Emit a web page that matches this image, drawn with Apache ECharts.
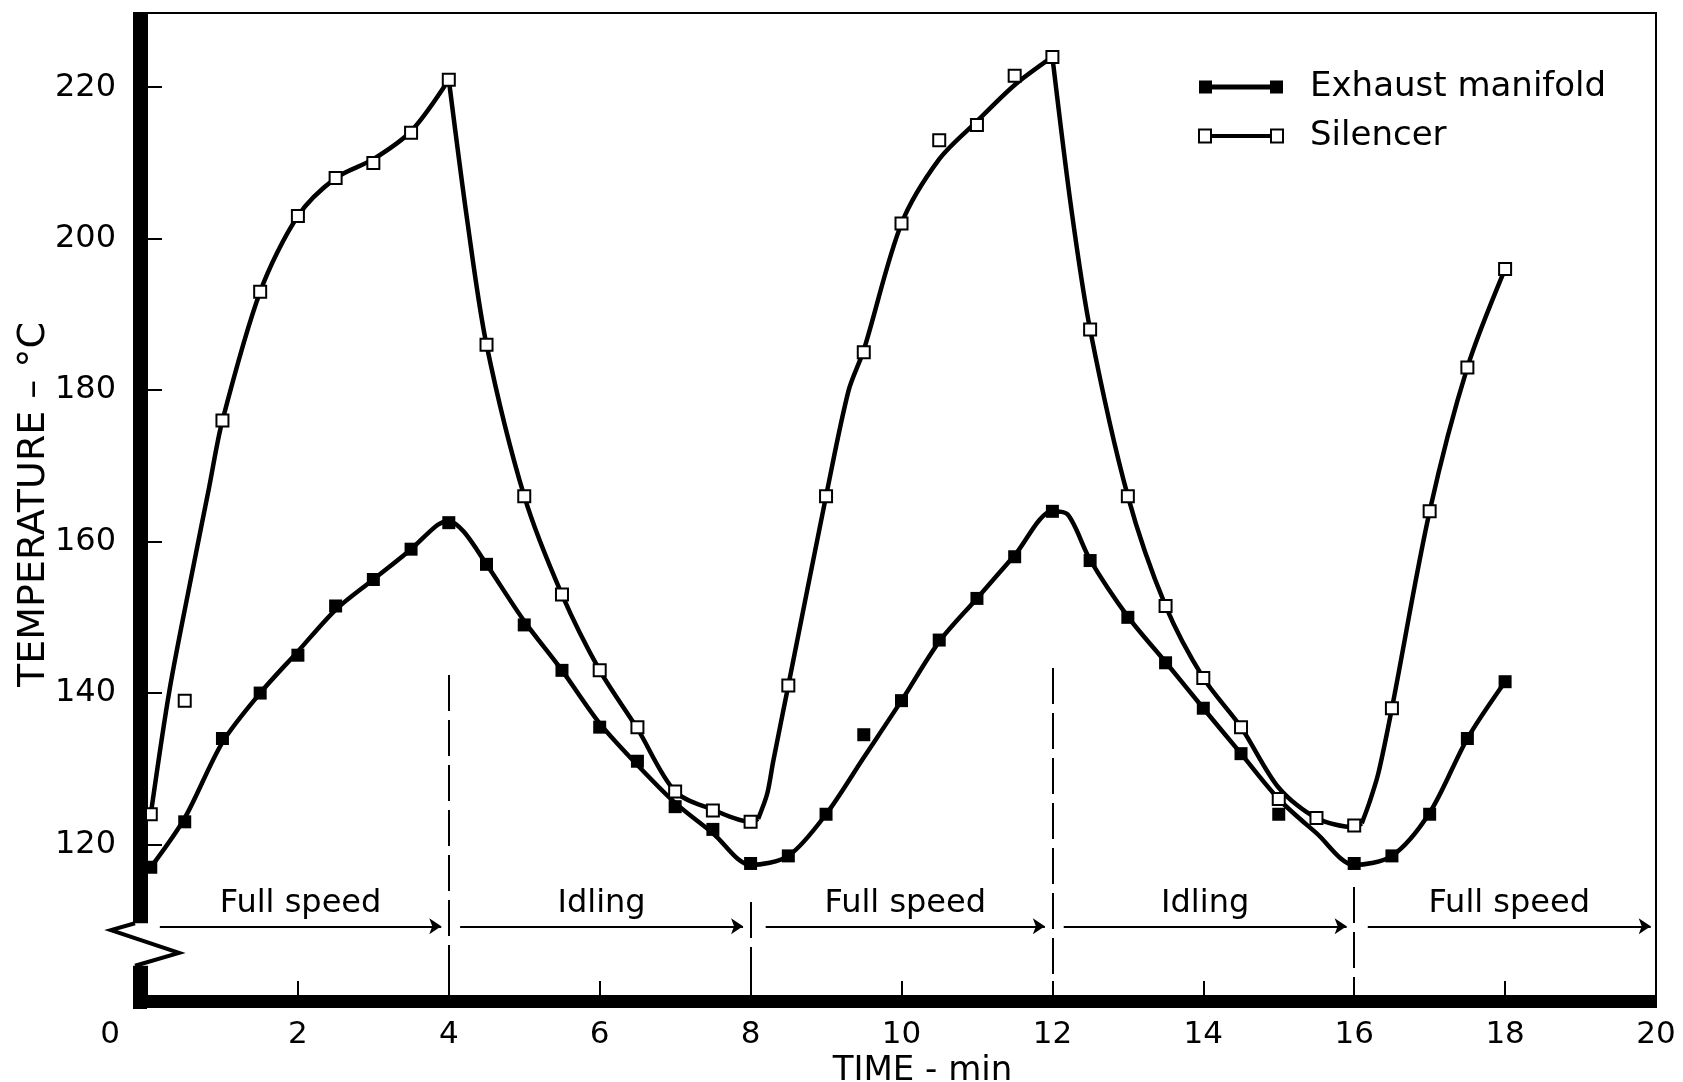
<!DOCTYPE html>
<html>
<head>
<meta charset="utf-8">
<script src="https://cdn.jsdelivr.net/npm/echarts@6/dist/echarts.min.js"></script>
<style>
html,body{margin:0;padding:0;background:#fff;}
#c{width:1683px;height:1082px;}
</style>
</head>
<body>
<div id="c"></div>
<script>
// ---- data ----
const xTickValues = [0, 2, 4, 6, 8, 10, 12, 14, 16, 18, 20];
const yTickValues = [120, 140, 160, 180, 200, 220];

// measured points (markers)
const exhaustPoints = [[0.05,117],[0.5,123],[1,134],[1.5,140],[2,145],[2.5,151.5],[3,155],[3.5,159],[4,162.5],[4.5,157],[5,149],[5.5,143],[6,135.5],[6.5,131],[7,125],[7.5,122],[8,117.5],[8.5,118.5],[9,124],[9.5,134.5],[10,139],[10.5,147],[11,152.5],[11.5,158],[12,164],[12.5,157.5],[13,150],[13.5,144],[14,138],[14.5,132],[15,124],[16,117.5],[16.5,118.5],[17,124],[17.5,134],[18,141.5]];
const silencerPoints = [[0.05,124],[0.5,139],[1,176],[1.5,193],[2,203],[2.5,208],[3,210],[3.5,214],[4,221],[4.5,186],[5,166],[5.5,153],[6,143],[6.5,135.5],[7,127],[7.5,124.5],[8,123],[8.5,141],[9,166],[9.5,185],[10,202],[10.5,213],[11,215],[11.5,221.5],[12,224],[12.5,188],[13,166],[13.5,151.5],[14,142],[14.5,135.5],[15,126],[15.5,123.5],[16,122.5],[16.5,138],[17,164],[17.5,183],[18,196]];

// fitted curves as drawn
const exhaustCurve = [[0.05,117],[0.5,123.5],[1,133.5],[1.5,140],[2,145.5],[2.5,151],[3,155],[3.5,159],[3.85,162.2],[4,162.7],[4.2,161.3],[4.5,157],[5,149.5],[5.5,143],[6,136],[6.5,130.5],[7,125.5],[7.5,121.5],[8,117.3],[8.5,118.5],[9,124],[9.5,131.5],[10,139],[10.5,146.8],[11,152.5],[11.5,158.2],[12,164],[12.2,163.6],[12.5,157.6],[13,150.1],[13.5,144.1],[14,138],[14.5,132],[15,126],[15.5,121.5],[16,117.3],[16.5,118.5],[17,124.2],[17.5,134],[18,141.5]];
const silencerCurve1 = [[0.05,124],[0.3,140.5],[0.6,156],[0.82,167],[1,176],[1.5,193],[2,203],[2.5,208],[3,210.5],[3.5,214.2],[4,221]];
const silencerCurve2 = [[4,221],[4.25,202],[4.5,186],[5,166],[5.5,153],[6,143],[6.5,135.3],[7,127],[7.5,124.6],[8,123],[8.1,123.4]];
const silencerCurve3 = [[8.1,123.4],[8.22,126.7],[8.3,131],[8.5,141],[9,166],[9.3,180],[9.5,185.3],[10,202],[10.5,210.5],[11,215.5],[11.5,220.3],[12,224]];
const silencerCurve4 = [[12,224],[12.25,204],[12.5,188],[13,166],[13.5,151.5],[14,142],[14.5,135.5],[15,127.5],[15.5,123.5],[16,122.3],[16.1,122.8]];
const silencerCurve5 = [[16.1,122.8],[16.2,125.5],[16.32,129.4],[16.5,138],[17,164],[17.5,183],[18,196]];

// phase annotations
const phaseNames = ['Full speed', 'Idling', 'Full speed', 'Idling', 'Full speed'];
const phaseStarts = [0.17, 4.15, 8.2, 12.15, 16.18];
const phaseEnds = [3.9, 7.9, 11.9, 15.9, 19.93];
const phaseArrowY = 109.2;
const switchTimes = [4, 8, 12, 16];
const switchTopValues = [142.4, 112.4, 143.3, 114.4];

const FONT = 'DejaVu Sans';
const chart = echarts.init(document.getElementById('c'));

const curveLine = (name, data) => ({
  name, type: 'line', data, smooth: 0.3, showSymbol: false, symbol: 'none', silent: true,
  lineStyle: { color: '#000', width: 4.5, opacity: 1 }, z: 2
});

const option = {
  animation: false,
  backgroundColor: '#fff',
  grid: { left: 147, right: 27, top: 13, bottom: 86, containLabel: false, outerBoundsMode: 'none',
          show: true, borderColor: '#000', borderWidth: 2 },
  legend: {
    orient: 'vertical', left: 1193, top: 65, itemWidth: 84, itemHeight: 13, itemGap: 15,
    selectedMode: false,
    textStyle: { fontFamily: FONT, fontSize: 34, lineHeight: 34, color: '#000', padding: [0, 0, 0, 22] },
    data: [
      { name: 'Exhaust manifold', icon: 'path://M0,0H13V13H0Z M13,4H71V9H13Z M71,0H84V13H71Z',
        itemStyle: { color: '#000', borderWidth: 0, opacity: 1 } },
      { name: 'Silencer', icon: 'path://M0,0H12V13H0Z M12,5.5H72V7.5H12Z M72,0H84V13H72Z',
        itemStyle: { color: '#fff', borderColor: '#000', borderWidth: 2, opacity: 1 } }
    ]
  },
  xAxis: {
    type: 'value', min: 0, max: 20, interval: 2,
    name: 'TIME - min', nameLocation: 'middle', nameGap: 58, nameMoveOverlap: false,
    nameTextStyle: { fontFamily: FONT, fontSize: 34, color: '#000', padding: [0, 0, 0, 42] },
    axisLine: { show: false },
    axisTick: { show: true, inside: true, length: 15, lineStyle: { color: '#000', width: 2 } },
    splitLine: { show: false },
    axisLabel: {
      margin: 23, fontFamily: FONT, fontSize: 31, color: '#000',
      formatter: v => (xTickValues.indexOf(v) < 0 ? '' : (v === 0 ? '{z|0}' : String(v))),
      rich: { z: { fontFamily: FONT, fontSize: 31, color: '#000', padding: [0, 74, 0, 0] } }
    }
  },
  yAxis: {
    type: 'value', min: 100, max: 229.8, interval: 20,
    name: 'TEMPERATURE – °C', nameLocation: 'middle', nameGap: 94, nameMoveOverlap: false,
    nameTextStyle: { fontFamily: FONT, fontSize: 38, color: '#000' },
    axisLine: { show: false },
    axisTick: { show: true, inside: true, length: 15, lineStyle: { color: '#000', width: 2 } },
    splitLine: { show: false },
    axisLabel: {
      margin: 31, fontFamily: FONT, fontSize: 32, color: '#000',
      showMinLabel: false, showMaxLabel: false,
      formatter: v => (yTickValues.indexOf(v) < 0 ? '' : String(v))
    }
  },
  series: [
    { name: 'Exhaust manifold', type: 'scatter', data: exhaustPoints, symbol: 'rect', symbolSize: 13,
      itemStyle: { color: '#000', opacity: 1 }, z: 4, silent: true },
    { name: 'Silencer', type: 'scatter', data: silencerPoints, symbol: 'rect', symbolSize: 12,
      itemStyle: { color: '#fff', borderColor: '#000', borderWidth: 2, opacity: 1 }, z: 5, silent: true },
    curveLine('Exhaust manifold', exhaustCurve),
    curveLine('Silencer', silencerCurve1),
    curveLine('Silencer', silencerCurve2),
    curveLine('Silencer', silencerCurve3),
    curveLine('Silencer', silencerCurve4),
    curveLine('Silencer', silencerCurve5),
    {
      name: 'phases', type: 'line', data: [], silent: true, z: 3,
      markLine: {
        silent: true, animation: false,
        symbol: ['none', 'none'],
        lineStyle: { color: '#000', width: 2, type: [36, 9], opacity: 1 },
        label: { show: false },
        data: switchTimes.map((t, i) => [{ coord: [t, switchTopValues[i]] }, { coord: [t, 100] }])
      }
    },
    {
      name: 'arrows', type: 'line', data: [], silent: true, z: 3,
      markLine: {
        silent: true, animation: false,
        symbol: ['none', 'arrow'], symbolSize: 12,
        lineStyle: { color: '#000', width: 2, type: 'solid', opacity: 1 },
        itemStyle: { color: '#000' },
        label: { show: true, position: 'insideMiddleTop', distance: 7, formatter: '{b}',
                 fontFamily: FONT, fontSize: 32, color: '#000' },
        data: phaseNames.map((n, i) => [{ name: n, coord: [phaseStarts[i], phaseArrowY] }, { coord: [phaseEnds[i], phaseArrowY] }])
      }
    }
  ]
};
chart.setOption(option);

// thick axis bars and the axis break, positioned from the axis scales
const o = chart.convertToPixel({ gridIndex: 0 }, [0, 100]);
const tr = chart.convertToPixel({ gridIndex: 0 }, [20, 229.8]);
const bTop = chart.convertToPixel({ gridIndex: 0 }, [0, 109.6])[1];
const bLeft = chart.convertToPixel({ gridIndex: 0 }, [0, 108.7])[1];
const bRight = chart.convertToPixel({ gridIndex: 0 }, [0, 105.7])[1];
const bBot = chart.convertToPixel({ gridIndex: 0 }, [0, 104])[1];
const W = 14;
chart.setOption({
  graphic: [
    { type: 'rect', z: 50, shape: { x: o[0] - W, y: tr[1] - 1, width: W, height: o[1] - tr[1] + 14 }, style: { fill: '#000' } },
    { type: 'rect', z: 50, shape: { x: o[0] - W, y: o[1] - 1, width: tr[0] - o[0] + W + 1, height: 13 }, style: { fill: '#000' } },
    { type: 'rect', z: 51, shape: { x: o[0] - W - 4, y: bTop, width: W + 7, height: bBot - bTop }, style: { fill: '#fff' } },
    { type: 'polyline', z: 52, shape: { points: [[o[0] - 12, bTop], [o[0] - 36, bLeft], [o[0] + 32, bRight], [o[0] - 12, bBot]] },
      style: { stroke: '#000', lineWidth: 4, fill: null, lineJoin: 'miter' } }
  ]
});
</script>
</body>
</html>
